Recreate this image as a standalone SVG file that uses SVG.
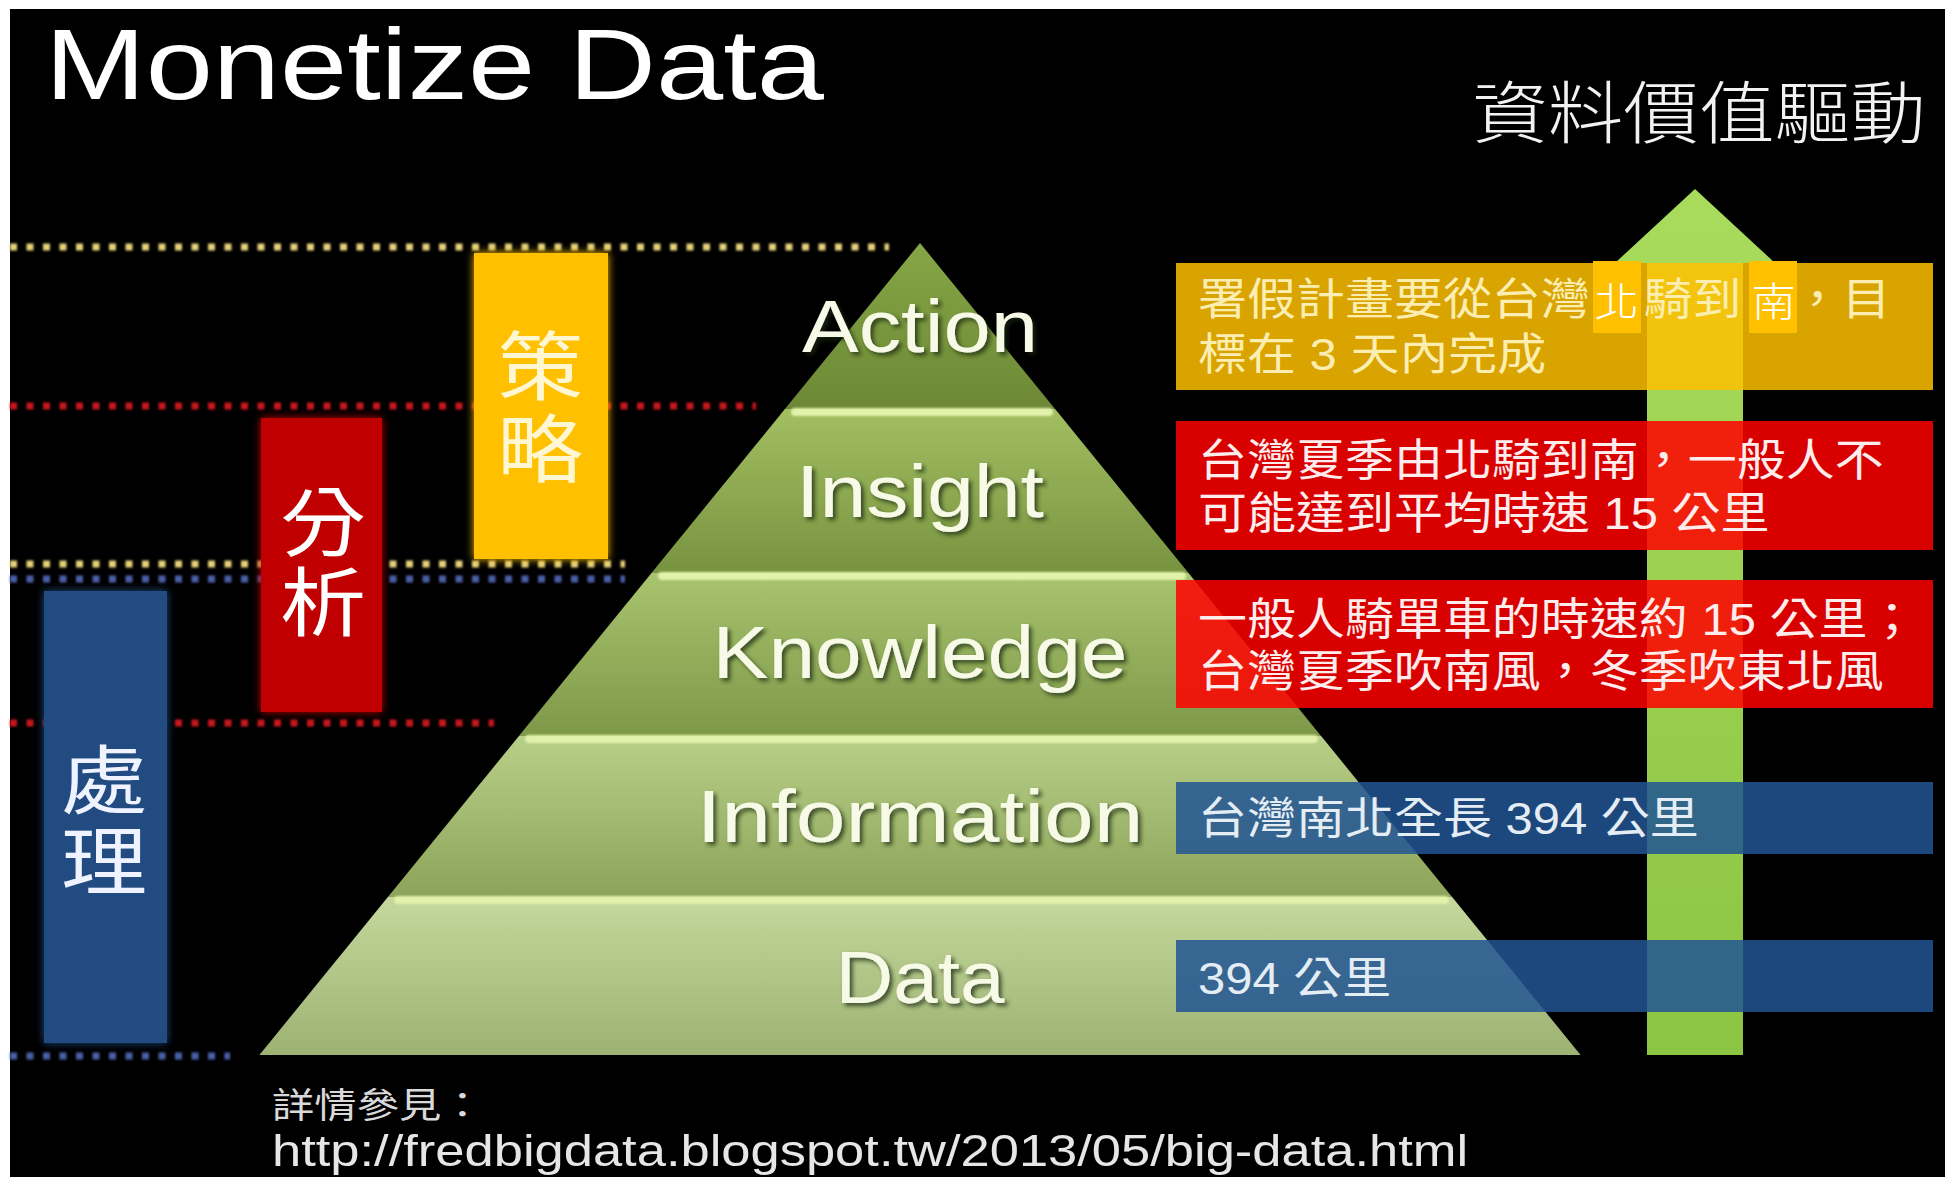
<svg xmlns="http://www.w3.org/2000/svg" width="1950" height="1177" viewBox="0 0 1950 1177" xml:lang="zh-Hant-TW" lang="zh-Hant-TW">
<defs>
<style>
.lat{font-family:"Liberation Sans",Arial,sans-serif}
.cjk{font-family:"Noto Sans CJK TC","Noto Sans CJK SC",sans-serif}
.lbl{font-family:"Liberation Sans",Arial,sans-serif;font-size:74px;fill:#f7fae6;text-anchor:middle;filter:url(#shadow)}
.bartxt{font-family:"Noto Sans CJK TC","Noto Sans CJK SC",sans-serif;font-size:75px;writing-mode:vertical-rl}
.boxtxt{font-family:"Liberation Sans","Noto Sans CJK TC","Noto Sans CJK SC",sans-serif;font-size:44px}
.dot{fill:none;stroke-width:7;stroke-dasharray:7 9.5;filter:url(#softU)}
.hl{stroke:#e2f2aa;stroke-width:8;stroke-linecap:round;filter:url(#softU)}
.box{opacity:0.85}
.mark{fill:#ffffff;font-size:40px;font-weight:300}
</style>
<filter id="shadow" x="-10%" y="-20%" width="120%" height="150%">
<feDropShadow dx="3" dy="3" stdDeviation="2" flood-color="#1c2a08" flood-opacity="0.75"/>
</filter>
<filter id="softU" filterUnits="userSpaceOnUse" x="0" y="0" width="1950" height="1177">
<feGaussianBlur stdDeviation="1"/>
</filter>
<filter id="glow" x="-20%" y="-20%" width="140%" height="140%">
<feGaussianBlur in="SourceGraphic" stdDeviation="4" result="b"/>
<feMerge><feMergeNode in="b"/><feMergeNode in="SourceGraphic"/></feMerge>
</filter>
<linearGradient id="gA" x1="0" y1="0" x2="0" y2="1"><stop offset="0" stop-color="#86a646"/><stop offset="1" stop-color="#6c8836"/></linearGradient>
<linearGradient id="gI" x1="0" y1="0" x2="0" y2="1"><stop offset="0" stop-color="#a2bf62"/><stop offset="1" stop-color="#789340"/></linearGradient>
<linearGradient id="gK" x1="0" y1="0" x2="0" y2="1"><stop offset="0" stop-color="#a8c46e"/><stop offset="1" stop-color="#7d9848"/></linearGradient>
<linearGradient id="gN" x1="0" y1="0" x2="0" y2="1"><stop offset="0" stop-color="#b8cf88"/><stop offset="1" stop-color="#8ca459"/></linearGradient>
<linearGradient id="gD" x1="0" y1="0" x2="0" y2="1"><stop offset="0" stop-color="#c5d89d"/><stop offset="1" stop-color="#9db273"/></linearGradient>
<linearGradient id="gArrow" x1="0" y1="0" x2="0" y2="1"><stop offset="0" stop-color="#a9dc5c"/><stop offset="1" stop-color="#8cc443"/></linearGradient>
</defs>

<rect x="0" y="0" width="1950" height="1177" fill="#ffffff"/>
<rect x="10" y="9" width="1935" height="1168" fill="#000000"/>

<g id="title">
<text class="lat" x="45" y="99" font-size="100" fill="#ffffff" textLength="779" lengthAdjust="spacingAndGlyphs">Monetize Data</text>
</g>
<g id="value-title">
<text class="cjk" x="1472" y="138" font-size="68" font-weight="300" fill="#f2f2f2" textLength="454" lengthAdjust="spacingAndGlyphs">資料價值驅動</text>
</g>

<g id="dotted-lines">
<line class="dot" x1="10" y1="247" x2="889" y2="247" stroke="#e6d27a"/>
<line class="dot" x1="10" y1="406" x2="756" y2="406" stroke="#c8141e"/>
<line class="dot" x1="10" y1="564" x2="625" y2="564" stroke="#e6d27a"/>
<line class="dot" x1="10" y1="579" x2="625" y2="579" stroke="#4a5fa8"/>
<line class="dot" x1="10" y1="723" x2="494" y2="723" stroke="#c8141e"/>
<line class="dot" x1="10" y1="1056" x2="230" y2="1056" stroke="#4a5fa8"/>
</g>

<g id="bar-strategy">
<rect x="474" y="253" width="134" height="306" fill="#ffc000" filter="url(#glow)"/>
<text class="bartxt" transform="translate(540,0) scale(1.147,1)" x="0" y="328" letter-spacing="8" fill="#fff6d2">策略</text>
</g>
<g id="bar-analysis">
<rect x="261" y="418" width="121" height="294" fill="#c00000" filter="url(#glow)"/>
<text class="bartxt" transform="translate(323,0) scale(1.147,1)" x="0" y="484" letter-spacing="5" fill="#ffffff">分析</text>
</g>
<g id="bar-processing">
<rect x="44" y="591" width="123" height="452" fill="#234c82" filter="url(#glow)"/>
<text class="bartxt" transform="translate(104,0) scale(1.147,1)" x="0" y="742" letter-spacing="6" fill="#eef3ff">處理</text>
</g>

<g id="pyramid">
<g id="band-action">
<polygon points="920,243 1055.1,409 784.9,409" fill="url(#gA)"/>
<text class="lbl" x="920" y="352" textLength="236" lengthAdjust="spacingAndGlyphs">Action</text>
</g>
<g id="band-insight">
<polygon points="784.9,409 1055.1,409 1188.5,573 651.5,573" fill="url(#gI)"/>
<line class="hl" x1="795" y1="412" x2="1049" y2="412"/>
<text class="lbl" x="920" y="517" textLength="248" lengthAdjust="spacingAndGlyphs">Insight</text>
</g>
<g id="band-knowledge">
<polygon points="651.5,573 1188.5,573 1321.1,736 518.9,736" fill="url(#gK)"/>
<line class="hl" x1="662" y1="576" x2="1182" y2="576"/>
<text class="lbl" x="920" y="678" textLength="415" lengthAdjust="spacingAndGlyphs">Knowledge</text>
</g>
<g id="band-information">
<polygon points="518.9,736 1321.1,736 1452.1,897 387.9,897" fill="url(#gN)"/>
<line class="hl" x1="529" y1="739" x2="1314" y2="739"/>
<text class="lbl" x="920" y="842" textLength="447" lengthAdjust="spacingAndGlyphs">Information</text>
</g>
<g id="band-data">
<polygon points="387.9,897 1452.1,897 1580.6,1055 259.4,1055" fill="url(#gD)"/>
<line class="hl" x1="398" y1="900" x2="1445" y2="900"/>
<text class="lbl" x="920" y="1003" textLength="169" lengthAdjust="spacingAndGlyphs">Data</text>
</g>
</g>

<g id="value-arrow">
<polygon points="1695,189 1775,263 1743,263 1743,1055 1647,1055 1647,263 1615,263" fill="url(#gArrow)"/>
</g>

<g id="box-action">
<rect class="box" x="1176" y="263" width="757" height="127" fill="#ffc000"/>
<rect x="1593" y="261" width="48" height="72" fill="#ffc000"/>
<rect x="1749" y="261" width="48" height="72" fill="#ffc000"/>
<text class="boxtxt" transform="translate(1198,0) scale(1.1136,1)" fill="#fbeeb0"><tspan x="0" y="315">署假計畫要從台灣</tspan><tspan class="mark" x="356" y="316">北</tspan><tspan x="400" y="315">騎到</tspan><tspan class="mark" x="497" y="316">南</tspan><tspan x="534" y="315">，目</tspan><tspan x="0" y="370">標在 3 天內完成</tspan></text>
</g>
<g id="box-insight">
<rect class="box" x="1176" y="421" width="757" height="129" fill="#ff0000"/>
<text class="boxtxt" transform="translate(1198,0) scale(1.1136,1)" fill="#ffecec"><tspan x="0" y="476">台灣夏季由北騎到南，一般人不</tspan><tspan x="0" y="529">可能達到平均時速 15 公里</tspan></text>
</g>
<g id="box-knowledge">
<rect class="box" x="1176" y="580" width="757" height="128" fill="#ff0000"/>
<text class="boxtxt" transform="translate(1198,0) scale(1.1136,1)" fill="#ffecec"><tspan x="0" y="635">一般人騎單車的時速約 15 公里；</tspan><tspan x="0" y="687">台灣夏季吹南風，冬季吹東北風</tspan></text>
</g>
<g id="box-information">
<rect class="box" x="1176" y="782" width="757" height="72" fill="#215594"/>
<text class="boxtxt" transform="translate(1198,0) scale(1.1136,1)" fill="#e4ecf4"><tspan x="0" y="834">台灣南北全長 394 公里</tspan></text>
</g>
<g id="box-data">
<rect class="box" x="1176" y="940" width="757" height="72" fill="#215594"/>
<text class="boxtxt" transform="translate(1198,0) scale(1.1136,1)" fill="#e4ecf4"><tspan x="0" y="994">394 公里</tspan></text>
</g>

<g id="footer">
<text transform="translate(272,0) scale(1.193,1)"><tspan x="0" y="1118" font-family="Liberation Sans, Noto Sans CJK TC, sans-serif" font-size="35.5" fill="#d9d9d9">詳情參見：</tspan><tspan class="lat" x="0" y="1166" font-size="44" fill="#e6e6e6">http://fredbigdata.blogspot.tw/2013/05/big-data.html</tspan></text>
</g>
</svg>
